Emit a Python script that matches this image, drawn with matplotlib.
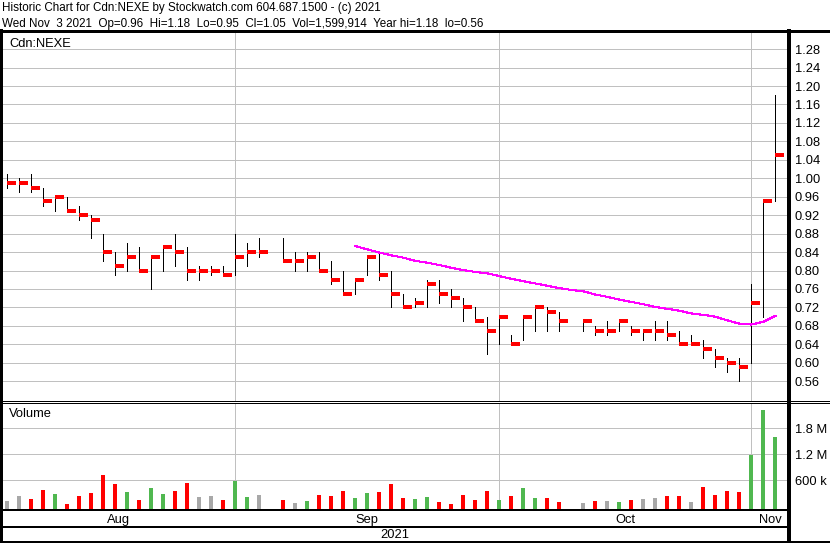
import numpy as np
import matplotlib
matplotlib.use("Agg")
import matplotlib.pyplot as plt
from matplotlib.lines import Line2D
from matplotlib.transforms import blended_transform_factory

plt.rcParams['font.family'] = ['Liberation Sans', 'DejaVu Sans']

############################################################
#                        DATA                              #
############################################################

# one slot per trading day, Aug 5 .. Nov 3 2021 (None = holiday slot)
highs = [1.01, 1.00, 1.01, 0.98, 0.96, 0.96, 0.94, 0.92, 0.88, 0.84,
         0.86, 0.85, 0.83, 0.85, 0.88, 0.85, 0.81, 0.81, 0.81, 0.88,
         0.86, 0.87, None, 0.87, 0.84, 0.84, 0.84, 0.82, 0.80, 0.78,
         0.83, 0.84, 0.80, 0.75, 0.74, 0.78, 0.78, 0.76, 0.74, 0.72,
         0.70, 0.70, 0.66, 0.70, 0.72, 0.72, 0.71, None, 0.69, 0.68,
         0.69, 0.69, 0.68, 0.67, 0.69, 0.69, 0.67, 0.66, 0.65, 0.63,
         0.61, 0.61, 0.77, 0.95, 1.18]
lows = [0.98, 0.97, 0.97, 0.94, 0.93, 0.93, 0.91, 0.87, 0.82, 0.79,
        0.80, 0.80, 0.76, 0.80, 0.81, 0.78, 0.78, 0.79, 0.79, 0.79,
        0.81, 0.83, None, 0.82, 0.80, 0.80, 0.80, 0.77, 0.75, 0.75,
        0.79, 0.78, 0.72, 0.72, 0.72, 0.72, 0.73, 0.72, 0.69, 0.69,
        0.62, 0.64, 0.64, 0.65, 0.67, 0.67, 0.67, None, 0.67, 0.66,
        0.66, 0.67, 0.66, 0.65, 0.65, 0.65, 0.64, 0.64, 0.61, 0.59,
        0.58, 0.56, 0.60, 0.70, 0.95]
closes = [0.99, 0.99, 0.98, 0.95, 0.96, 0.93, 0.92, 0.91, 0.84, 0.81,
          0.83, 0.80, 0.83, 0.85, 0.84, 0.80, 0.80, 0.80, 0.79, 0.83,
          0.84, 0.84, None, 0.82, 0.82, 0.83, 0.80, 0.78, 0.75, 0.78,
          0.83, 0.79, 0.75, 0.72, 0.73, 0.77, 0.75, 0.74, 0.72, 0.69,
          0.67, 0.70, 0.64, 0.70, 0.72, 0.71, 0.69, None, 0.69, 0.67,
          0.67, 0.69, 0.67, 0.67, 0.67, 0.66, 0.64, 0.64, 0.63, 0.61,
          0.60, 0.59, 0.73, 0.95, 1.05]
volumes = [122, 238, 168, 376, 284, 53, 238, 307, 722, 515,
           330, 145, 422, 284, 353, 538, 215, 238, 145, 584,
           215, 261, None, 145, 76, 122, 261, 238, 353, 192,
           307, 330, 515, 192, 168, 215, 99, 53, 261, 145,
           353, 145, 238, 422, 192, 192, 99, None, 76, 122,
           122, 99, 145, 168, 192, 238, 238, 99, 445, 261,
           353, 330, 1184, 2222, 1600]  # thousands of shares

ma_start = 29
ma_values = [0.853, 0.846, 0.839, 0.833, 0.828, 0.821, 0.817, 0.812, 0.806,
             0.801, 0.797, 0.794, 0.788, 0.782, 0.777, 0.772, 0.767, 0.762,
             0.758, 0.755, 0.748, 0.743, 0.737, 0.732, 0.727, 0.721, 0.717,
             0.713, 0.707, 0.704, 0.700, 0.692, 0.685, 0.683, 0.689, 0.702]

month_starts = [19, 41, 62]          # Sep 1, Oct 1, Nov 1
month_names = ["Aug", "Sep", "Oct", "Nov"]

price_ticks = np.arange(0.56, 1.2801, 0.04)
vol_ticks = [600000, 1200000, 1800000]
vol_tick_labels = ["600 k", "1.2 M", "1.8 M"]

title1 = "Historic Chart for Cdn:NEXE by Stockwatch.com 604.687.1500 - (c) 2021"
title2 = ("Wed Nov  3 2021  Op=0.96  Hi=1.18  Lo=0.95  Cl=1.05  "
          "Vol=1,599,914  Year hi=1.18  lo=0.56")

############################################################
#                        LAYOUT                            #
############################################################

W, H = 830, 543
FS = 9.3
fig = plt.figure(figsize=(W / 100, H / 100), dpi=100)


def px_axes(x0, y0, x1, y1):
    return fig.add_axes([x0 / W, 1 - y1 / H, (x1 - x0) / W, (y1 - y0) / H])


def fig_line(x0, y0, x1, y1, lw_px):
    fig.add_artist(Line2D([x0 / W, x1 / W], [1 - y0 / H, 1 - y1 / H],
                          transform=fig.transFigure, color='black',
                          lw=lw_px * 0.72, antialiased=False, zorder=10))


ax = px_axes(1, 31, 789, 401)
axv = px_axes(1, 403, 789, 509.5)
xlim = (-0.525, 65.14)
GRID = '#c0c0c0'

for a in (ax, axv):
    a.set_xlim(*xlim)
    for s in a.spines.values():
        s.set_visible(False)
    a.set_xticks([])
    a.tick_params(axis='y', left=False, labelleft=False, right=True,
                  labelright=True, length=0, pad=4, labelsize=FS)
    a.grid(axis='y', color=GRID, lw=0.72, antialiased=False)
    a.set_axisbelow(True)
    for m in month_starts:
        a.axvline(m, color=GRID, lw=0.72, antialiased=False, zorder=0)

# price panel
ax.set_ylim(0.5172, 1.3193)
ax.set_yticks(price_ticks)
ax.set_yticklabels([f"{p:.2f}" for p in price_ticks])

for i in range(len(closes)):
    if closes[i] is None:
        continue
    ax.vlines(i, lows[i], highs[i], color='black', lw=0.72, antialiased=False)
    ax.hlines(closes[i], i, i + 0.75, color='#ff0000', lw=1.7, antialiased=False)

ma_x = np.arange(ma_start, ma_start + len(ma_values))
ax.plot(ma_x, ma_values, color='#ff00ff', lw=0.8, antialiased=False)

ax.text(9 / 788 - 0.001, 1 - 15.7 / 370, "Cdn:NEXE", transform=ax.transAxes,
        fontsize=FS, va='baseline', ha='left')

# volume panel
vmin = -73846
axv.set_ylim(vmin, 2383800)
axv.set_yticks(vol_ticks)
axv.set_yticklabels(vol_tick_labels)
prev = None
for i in range(len(volumes)):
    if volumes[i] is None:
        continue
    if prev is None or closes[i] == prev:
        col = '#a8a8a8'
    elif closes[i] > prev:
        col = '#50b850'
    else:
        col = '#ff0000'
    prev = closes[i]
    axv.vlines(i, vmin, volumes[i] * 1000, color=col, lw=1.7, antialiased=False)

axv.text(9 / 788 - 0.001, 1 - 14.3 / 106.5, "Volume", transform=axv.transAxes,
         fontsize=FS, va='baseline', ha='left')

# month labels centred in each month span
bounds = [xlim[0]] + month_starts + [xlim[1]]
tr = blended_transform_factory(axv.transData, fig.transFigure)
for k, name in enumerate(month_names):
    axv.text((bounds[k] + bounds[k + 1]) / 2, 1 - 522.7 / H, name,
             transform=tr, ha='center', va='baseline', fontsize=FS)
fig.text(395 / W, 1 - 538.5 / H, "2021", ha='center', va='baseline', fontsize=FS)

# header (narrower in the original)
fig.text(2 / W, 1 - 11.3 / H, title1, ha='left', va='baseline', fontsize=8.4)
fig.text(2 / W, 1 - 26.7 / H, title2, ha='left', va='baseline', fontsize=8.4)

# frame lines
fig_line(0, 30.5, W, 30.5, 1.3)
fig_line(0, 400.5, W, 400.5, 1)
fig_line(0, 402.5, W, 402.5, 1)
fig_line(0, 509.8, 789, 509.8, 2)
fig_line(0, 526.5, 789, 526.5, 2)
fig_line(0, 541.8, W, 541.8, 2)
fig_line(1.2, 30.5, 1.2, H, 2.5)
fig_line(789, 30.5, 789, H, 2.2)

fig.savefig("out.png", dpi=100)
